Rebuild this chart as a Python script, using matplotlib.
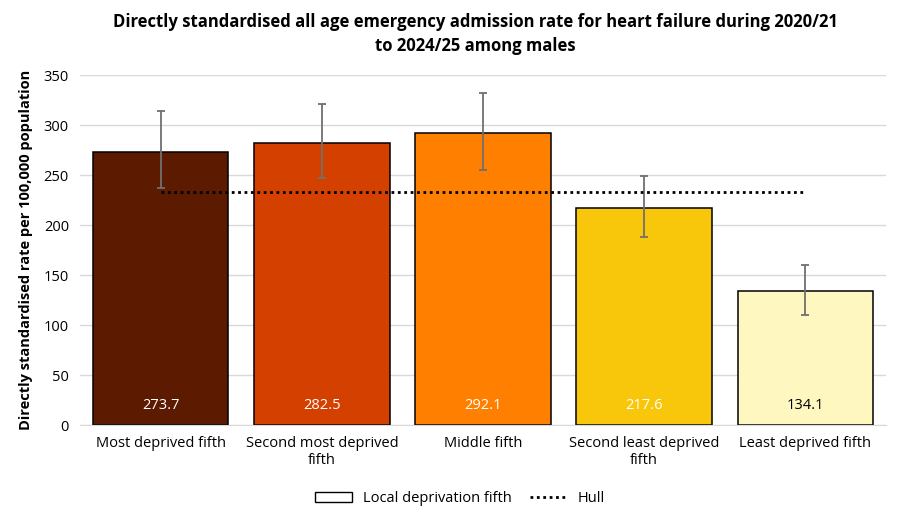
import matplotlib
matplotlib.use("Agg")
import matplotlib.pyplot as plt
import numpy as np
from matplotlib.patches import Patch
from matplotlib.lines import Line2D

categories = ["Most deprived fifth", "Second most deprived\nfifth", "Middle fifth",
              "Second least deprived\nfifth", "Least deprived fifth"]
rates = [273.7, 282.5, 292.1, 217.6, 134.1]
ci_low = [237, 247, 255, 188, 110]
ci_high = [314, 321, 332, 249, 160]
hull = [233, 233, 233, 233, 233]
colours = ["#5C1A00", "#D44000", "#FF8000", "#F8C70C", "#FEF7C0"]
label_colours = ["white", "white", "white", "white", "black"]

plt.rcParams["font.family"] = ["Open Sans", "DejaVu Sans"]

fig = plt.figure(figsize=(9.2, 5.19), dpi=100)
ax = fig.add_axes([0.087, 0.181, 0.876, 0.674])

x = np.arange(len(categories))
yerr = [np.array(rates) - np.array(ci_low), np.array(ci_high) - np.array(rates)]
ax.bar(x, rates, width=0.84, color=colours, edgecolor="black", linewidth=1.1, zorder=2)
ax.errorbar(x, rates, yerr=yerr, fmt="none", ecolor="#707070", elinewidth=1.3,
            capsize=3, capthick=1.3, zorder=3)
ax.plot(x, hull, color="black", linestyle=(0, (1, 1.3)), linewidth=2.0, zorder=4)

for i, v in enumerate(rates):
    ax.text(i, 12, f"{v:.1f}", ha="center", va="bottom", fontsize=10.5,
            color=label_colours[i], zorder=5)

ax.set_xlim(-0.5, 4.5)
ax.set_ylim(0, 350)
ax.set_yticks(range(0, 351, 50))
ax.set_xticks(x)
ax.set_xticklabels(categories, fontsize=10.5)
ax.tick_params(axis="y", labelsize=10.5, length=0, pad=8)
ax.tick_params(axis="x", length=0, pad=8)
ax.grid(axis="y", color="#D9D9D9", linewidth=1, zorder=0)
ax.set_axisbelow(True)
for s in ["top", "right", "left"]:
    ax.spines[s].set_visible(False)
ax.spines["bottom"].set_color("#D9D9D9")

ax.set_ylabel("Directly standardised rate per 100,000 population", fontsize=10.5,
              fontweight="bold", labelpad=8)
fig.text(0.517, 0.935,
         "Directly standardised all age emergency admission rate for heart failure during 2020/21\n"
         "to 2024/25 among males", fontsize=12.0, fontweight="bold", ha="center", va="center",
         linespacing=1.4)

handles = [Patch(facecolor="white", edgecolor="black", label="Local deprivation fifth"),
           Line2D([0], [0], color="black", linestyle=(0, (1, 1.3)), linewidth=2.0, label="Hull")]
fig.legend(handles=handles, loc="lower center", bbox_to_anchor=(0.5, 0.0), ncol=2,
           frameon=False, fontsize=10.5, handlelength=2.5, columnspacing=1.2)

fig.savefig("out.png", dpi=100)
